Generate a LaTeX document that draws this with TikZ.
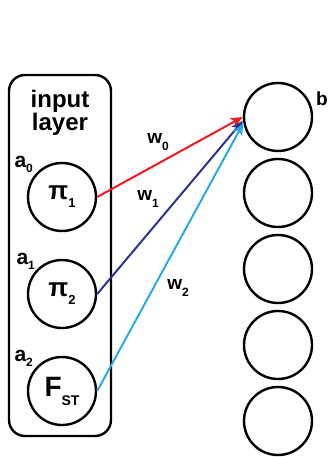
\documentclass[tikz,border=0pt]{standalone}
\usepackage{fontspec}
\setmainfont{Liberation Sans}
\usetikzlibrary{arrows.meta,positioning}
\definecolor{wred}{RGB}{237,28,36}
\definecolor{wnavy}{RGB}{46,49,146}
\definecolor{wcyan}{RGB}{41,171,226}
\newcommand{\fsz}[2]{{\fontsize{#1}{#1}\selectfont #2}}
\newcommand{\lowsub}[3]{\raisebox{-#3}{\fontsize{#1}{#1}\selectfont #2}}

\begin{document}
\begin{tikzpicture}[x=1pt,y=-1pt,
  neuron/.style={circle,draw,line width=2.4pt,minimum size=68pt,inner sep=0pt,font=\bfseries},
  lbl/.style={inner sep=0pt,font=\bfseries},
  conn/.style={line width=2pt,-{Stealth[length=12pt,width=10pt,inset=3pt]}}]
  \useasboundingbox (0,0) rectangle (330,457);
  \draw[line width=2.4pt,rounded corners=16pt] (9,75) rectangle (111,436);
  \node[lbl,align=center,font=\bfseries\fontsize{24}{23}\selectfont] (title) at (60,113) {input\\layer};
  \node[neuron] (in1) at (62,197) {\fsz{26}{π}\lowsub{13}{1}{8pt}};
  \node[neuron] (in2) at (62,294) {\fsz{26}{π}\lowsub{13}{2}{8pt}};
  \node[neuron] (in3) at (62,391) {\fsz{28}{F}\lowsub{14}{ST}{9pt}};
  \node[lbl,anchor=south east] (a0) at ([xshift=-4pt,yshift=-1pt]in1.135) {\fsz{21}{a}\lowsub{12}{0}{5pt}};
  \node[lbl,anchor=south east] (a1) at ([xshift=-2pt,yshift=-1pt]in2.135) {\fsz{21}{a}\lowsub{12}{1}{5pt}};
  \node[lbl,anchor=south east] (a2) at ([xshift=-4pt,yshift=-1pt]in3.135) {\fsz{21}{a}\lowsub{12}{2}{5pt}};
  \foreach \i/\y in {1/117,2/193,3/269,4/345,5/421}
    \node[neuron] (out\i) at (278,\y) {};
  \node[lbl] (b) at (322,99) {\fsz{19}{b}};
  \draw[conn,wred] (in1.east) -- (out1.west);
  \draw[conn,wnavy] (in2.east) -- (out1.186);
  \draw[conn,wcyan] (in3.east) -- (out1.190);
  \node[lbl] (w0) at (158,142) {\fsz{19}{w}\lowsub{12}{0}{7pt}};
  \node[lbl] (w1) at (148,199) {\fsz{19}{w}\lowsub{12}{1}{7pt}};
  \node[lbl] (w2) at (178,288) {\fsz{19}{w}\lowsub{12}{2}{7pt}};
\end{tikzpicture}
\end{document}
